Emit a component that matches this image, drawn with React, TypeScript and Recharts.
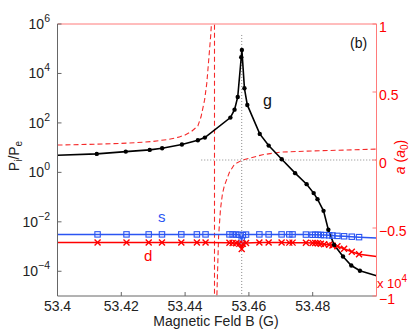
import React from 'react';
import { ComposedChart, Line, XAxis, YAxis, ReferenceLine } from 'recharts';

const FONT = '"Liberation Sans", Arial, Helvetica, sans-serif';
const X_MIN = 53.4;
const X_MAX = 53.5;

const xTicks = [53.4, 53.42, 53.44, 53.46, 53.48];
const leftTicks = [1e-4, 1e-2, 1, 1e2, 1e4, 1e6];
const rightTicks = [-1, -0.5, 0, 0.5, 1];

// g : P_i/P_e along the field scan
const gField = [
  53.4, 53.4123, 53.4214, 53.4289, 53.4328, 53.439, 53.444, 53.4462, 53.4542, 53.4555,
  53.4565, 53.4576, 53.4578, 53.4586, 53.4595, 53.4634, 53.4662, 53.4703, 53.4745, 53.4781,
  53.4803, 53.4815, 53.4834, 53.4849, 53.4867, 53.4895, 53.4921, 53.4948, 53.5,
];
const gRatio = [
  4.95, 5.58, 6.92, 8.11, 9.5, 13.3, 20.0, 25.5, 164, 344,
  1122, 45200, 89100, 2512, 533, 36.0, 12.1, 3.41, 0.929, 0.333,
  0.145, 0.0826, 0.0278, 0.00475, 0.00117, 3.98e-4, 1.71e-4, 1.05e-4, 6.6e-5,
];

// s and d share the same field points
const sdField = [
  53.4, 53.41256, 53.42163, 53.42859, 53.43275, 53.43881, 53.44369, 53.44641, 53.4539, 53.4549,
  53.456, 53.457, 53.45775, 53.4581, 53.4591, 53.46328, 53.46619, 53.47025, 53.47266, 53.47369,
  53.47788, 53.47994, 53.48078, 53.48163, 53.48256, 53.48359, 53.48516, 53.48619, 53.48775, 53.48984,
  53.49225, 53.49453, 53.5,
];
const sRatio = [
  3.1e-3, 3.1e-3, 3.1e-3, 3.1e-3, 3.1e-3, 3.1e-3, 3.1e-3, 3.1e-3, 3.1e-3, 3.1e-3,
  3.05e-3, 3.0e-3, 1.8e-3, 2.9e-3, 3.05e-3, 3.1e-3, 3.1e-3, 3.1e-3, 3.1e-3, 3.1e-3,
  3.05e-3, 3.0e-3, 3.0e-3, 3.0e-3, 2.95e-3, 2.9e-3, 2.85e-3, 2.8e-3, 2.7e-3, 2.6e-3,
  2.5e-3, 2.4e-3, 2.2e-3,
];
const dRatio = [
  1.46e-3, 1.46e-3, 1.46e-3, 1.46e-3, 1.46e-3, 1.46e-3, 1.46e-3, 1.46e-3, 1.42e-3, 1.4e-3,
  1.35e-3, 1.3e-3, 7.9e-4, 1.3e-3, 1.4e-3, 1.45e-3, 1.45e-3, 1.45e-3, 1.44e-3, 1.44e-3,
  1.42e-3, 1.4e-3, 1.38e-3, 1.35e-3, 1.3e-3, 1.25e-3, 1.17e-3, 1.1e-3, 1.02e-3, 8.1e-4,
  6.2e-4, 4.9e-4, 4.0e-4,
];

// scattering length a, in units of 1e4 a0
const aField = [
  53.4, 53.41, 53.42, 53.425, 53.43, 53.435, 53.438, 53.44, 53.442, 53.444,
  53.445, 53.4461, 53.4468, 53.4474, 53.448, 53.4482, 53.4485, 53.4492, 53.44923, 53.4499,
  53.4505, 53.4511, 53.4517, 53.4523, 53.4539, 53.4555, 53.458, 53.4643, 53.47, 53.48,
  53.49, 53.5,
];
const aLength = [
  0.11, 0.115, 0.122, 0.128, 0.137, 0.152, 0.168, 0.184, 0.21, 0.25,
  0.318, 0.44, 0.564, 0.735, 0.907, 0.98, 1.5, 1000, -1000, -1.05,
  -0.56, -0.36, -0.25, -0.19, -0.09, -0.03, 0.0, 0.039, 0.058, 0.067,
  0.073, 0.08,
];

const PEAK_FIELD = 53.45775;
const PEAK_TOP = 3.6e5;
const ZERO_START = 53.44506;

const gData = gField.map((B, i) => ({ B, v: gRatio[i] }));
const sData = sdField.map((B, i) => ({ B, v: sRatio[i] }));
const dData = sdField.map((B, i) => ({ B, v: dRatio[i] }));
const aData = aField.map((B, i) => ({ B, a: aLength[i] }));

const BLUE = '#2b55f2';
const RED = '#ff0000';
const AXIS_RED = '#ff7a7a';

const inside = (B: number) => B > X_MIN && B < X_MAX;

const RoundDot = (p: any) =>
  inside(p.payload.B) ? (
    <circle key={p.index} cx={p.cx} cy={p.cy} r={2.2} fill="#000" />
  ) : (
    <g key={p.index} />
  );

const SquareDot = (p: any) =>
  inside(p.payload.B) ? (
    <rect key={p.index} x={p.cx - 2.7} y={p.cy - 2.7} width={5.4} height={5.4} fill="none" stroke={BLUE} strokeWidth={1.1} />
  ) : (
    <g key={p.index} />
  );

const CrossDot = (p: any) =>
  inside(p.payload.B) ? (
    <path
      key={p.index}
      d={`M${p.cx - 3},${p.cy - 3}L${p.cx + 3},${p.cy + 3}M${p.cx - 3},${p.cy + 3}L${p.cx + 3},${p.cy - 3}`}
      stroke={RED}
      strokeWidth={1.4}
    />
  ) : (
    <g key={p.index} />
  );

const PowerTick = (props: any) => {
  const { x, y, payload } = props;
  const exp = Math.round(Math.log10(payload.value));
  return (
    <text x={x} y={y} dy={5} textAnchor="end" fontSize={14} fill="#222" fontFamily={FONT}>
      10
      <tspan dy={-7} fontSize={10.5}>{exp < 0 ? '\u2212' + -exp : String(exp)}</tspan>
    </text>
  );
};

const RightTick = (props: any) => {
  const { x, y, payload } = props;
  const v = payload.value;
  const label = v < 0 ? '\u2212' + -v : String(v);
  return (
    <text x={x} y={y} dy={7.5} textAnchor="start" fontSize={14} fill={RED} fontFamily={FONT}>
      {label}
    </text>
  );
};

export default function App() {
  return (
    <div style={{ position: 'absolute', left: 0, top: 0, width: 415, height: 334, background: '#fff' }}>
      <ComposedChart
        width={415}
        height={334}
        margin={{ top: 24, right: 8.5, bottom: 8, left: 7.5 }}
        style={{ fontFamily: FONT }}
      >
        <XAxis
          dataKey="B"
          type="number"
          domain={[X_MIN, X_MAX]}
          ticks={xTicks}
          interval={0}
          allowDataOverflow
          height={30}
          stroke="#666"
          tickSize={-4}
          tickMargin={9}
          tick={{ fontSize: 14, fill: '#222', fontFamily: FONT }}
          tickFormatter={(v: number) => String(v)}
        />
        <YAxis
          yAxisId="left"
          scale="log"
          domain={[1e-5, 1e6]}
          ticks={leftTicks}
          interval={0}
          allowDataOverflow
          width={50}
          stroke="#666"
          tickSize={-4}
          tickMargin={11.5}
          tick={<PowerTick />}
        />
        <YAxis
          yAxisId="right"
          orientation="right"
          domain={[-1, 1]}
          ticks={rightTicks}
          interval={0}
          allowDataOverflow
          width={30}
          stroke={AXIS_RED}
          tickSize={-4}
          tickMargin={6.5}
          tick={<RightTick />}
        />
        <ReferenceLine yAxisId="right" y={1} stroke={AXIS_RED} />
        <ReferenceLine
          yAxisId="left"
          segment={[{ x: PEAK_FIELD, y: PEAK_TOP }, { x: PEAK_FIELD, y: 1e-5 }]}
          stroke="#888"
          strokeDasharray="1 2"
        />
        <ReferenceLine
          yAxisId="right"
          segment={[{ x: ZERO_START, y: 0 }, { x: X_MAX, y: 0 }]}
          stroke="#888"
          strokeDasharray="1 2"
        />
        <Line
          yAxisId="right"
          data={aData}
          dataKey="a"
          type="linear"
          stroke="#f52a2a"
          strokeWidth={1.1}
          strokeDasharray="5 3"
          dot={false}
          isAnimationActive={false}
        />
        <Line
          yAxisId="left"
          data={sData}
          dataKey="v"
          type="linear"
          stroke={BLUE}
          strokeWidth={1.5}
          dot={SquareDot}
          isAnimationActive={false}
        />
        <Line
          yAxisId="left"
          data={dData}
          dataKey="v"
          type="linear"
          stroke={RED}
          strokeWidth={1.5}
          dot={CrossDot}
          isAnimationActive={false}
        />
        <Line
          yAxisId="left"
          data={gData}
          dataKey="v"
          type="linear"
          stroke="#000"
          strokeWidth={1.6}
          dot={RoundDot}
          isAnimationActive={false}
        />
      </ComposedChart>
      <svg
        width={415}
        height={334}
        style={{ position: 'absolute', left: 0, top: 0, pointerEvents: 'none' }}
        fontFamily={FONT}
      >
        <text x={18.5} y={156} transform="rotate(-90 18.5 156)" textAnchor="middle" fontSize={14} fill="#222">
          P<tspan dy={3} fontSize={10}>i</tspan>
          <tspan dy={-3}>/P</tspan>
          <tspan dy={3} fontSize={10}>e</tspan>
        </text>
        <text x={216} y={326} textAnchor="middle" fontSize={14} fill="#222">
          Magnetic Feld B (G)
        </text>
        <text x={405} y={157} transform="rotate(-90 405 157)" textAnchor="middle" fontSize={14} fill={RED}>
          <tspan fontStyle="italic">a</tspan> (<tspan fontStyle="italic">a</tspan>
          <tspan dy={3} fontSize={10}>0</tspan>
          <tspan dy={-3}>)</tspan>
        </text>
        <text x={350} y={48} fontSize={14} fill="#111">(b)</text>
        <text x={263} y={106} fontSize={16} fill="#111">g</text>
        <text x={158} y={221.5} fontSize={15} fill={BLUE}>s</text>
        <text x={144} y={261} fontSize={15} fill={RED}>d</text>
        <text x={377} y={288} fontSize={13} fill={RED}>
          x 10<tspan dy={-6} fontSize={10}>4</tspan>
        </text>
      </svg>
    </div>
  );
}
